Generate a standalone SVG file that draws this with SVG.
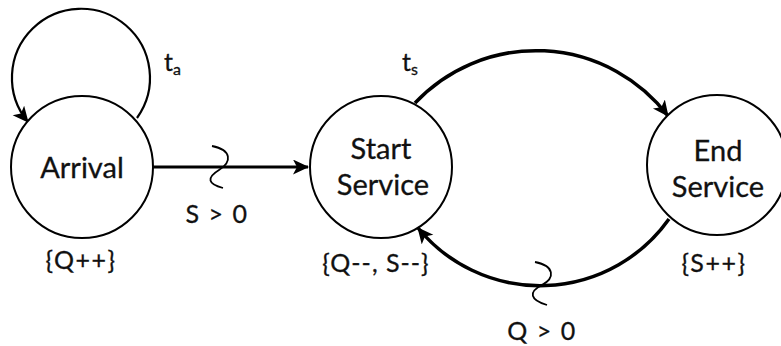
<svg xmlns="http://www.w3.org/2000/svg" width="781" height="346" viewBox="0 0 781 346">
  <style>
    .node { fill: #ffffff; stroke: #000000; stroke-width: 2; }
    .name { font-family: Lato, "Open Sans", "Liberation Sans", sans-serif; font-size: 29px; fill: #111111; stroke: #111111; stroke-width: 0.3; text-anchor: middle; }
    .lbl { font-family: Lato, "Open Sans", "Liberation Sans", sans-serif; font-size: 25px; fill: #111111; stroke: #111111; stroke-width: 0.3; text-anchor: middle; }
    .edge { fill: none; stroke: #000000; stroke-width: 3; }
    .cond { fill: none; stroke: #000000; stroke-width: 1.8; }
  </style>
  <defs>
    <marker id="head" markerUnits="userSpaceOnUse" markerWidth="18" markerHeight="16" refX="15" refY="7.5" orient="auto">
      <path d="M0,0 L16,7.5 L0,15 L4,7.5 z" fill="#000000"/>
    </marker>
  </defs>

  <!-- transitions -->
  <g id="edges">
    <!-- self loop on Arrival -->
    <path class="edge" style="stroke-width:2.2" d="M137,118 A69,69 0 1 0 28,122" marker-end="url(#head)"/>
    <!-- Arrival to Start Service (conditional) -->
    <path class="edge" d="M153,167 L308,167" marker-end="url(#head)"/>
    <path class="cond" d="M212,146 C232,150 232,162 219,170 C206,178 208,184 223,188"/>
    <!-- Start Service to End Service -->
    <path class="edge" style="stroke-width:3.5" d="M415,103 A166,166 0 0 1 668,116" marker-end="url(#head)"/>
    <!-- End Service back to Start Service (conditional) -->
    <path class="edge" style="stroke-width:3.5" d="M669,219 A158,158 0 0 1 418,228" marker-end="url(#head)"/>
    <path class="cond" d="M535,262 C555,266 555,278 542,285 C528,292 530,300 547,305"/>
    <!-- edge labels -->
    <text class="lbl" x="164" y="71" style="text-anchor:start">t<tspan font-size="16" dy="4">a</tspan></text>
    <text class="lbl" x="402" y="71" style="text-anchor:start">t<tspan font-size="16" dy="4">s</tspan></text>
    <text class="lbl" x="217" y="223" letter-spacing="1.5">S &gt; 0</text>
    <text class="lbl" x="542" y="340" letter-spacing="1.5">Q &gt; 0</text>
  </g>

  <g id="arrival">
    <circle class="node" cx="82" cy="167" r="71"/>
    <text class="name" x="82" y="178">Arrival</text>
    <text class="lbl" x="81" y="269" letter-spacing="1.5">{Q++}</text>
  </g>

  <g id="start-service">
    <circle class="node" cx="381" cy="167" r="71"/>
    <text class="name" x="381" y="159">Start</text>
    <text class="name" x="383" y="195">Service</text>
    <text class="lbl" x="376" y="272" letter-spacing="1">{Q--, S--}</text>
  </g>

  <g id="end-service">
    <circle class="node" cx="717" cy="165" r="70"/>
    <text class="name" x="718" y="161">End</text>
    <text class="name" x="718" y="197">Service</text>
    <text class="lbl" x="714" y="272" letter-spacing="1.5">{S++}</text>
  </g>
</svg>
